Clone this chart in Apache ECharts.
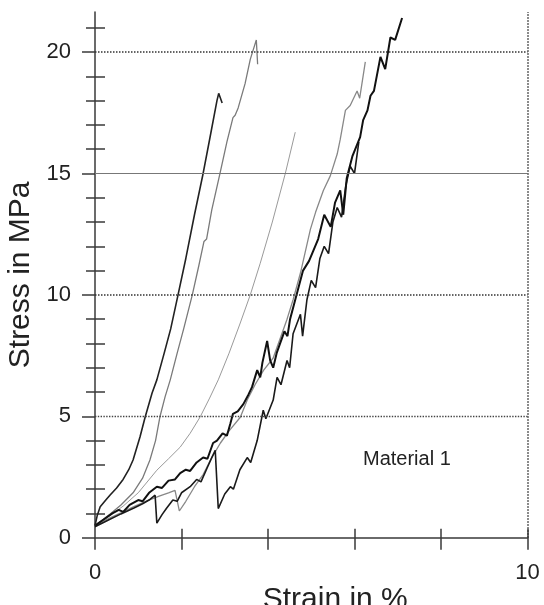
<!DOCTYPE html>
<html>
<head>
<meta charset="utf-8">
<script src="https://cdn.jsdelivr.net/npm/echarts@6/dist/echarts.min.js"></script>
<style>
    html, body { margin: 0; padding: 0; background: #fff; }
    #chart { width: 544px; height: 605px; }
</style>
</head>
<body>
<div id="chart"></div>
<script>
// stress-strain curves, [strain %, stress MPa]
const curveA = [[0,0.5],[0.05,0.9],[0.12,1.27],[0.25,1.55],[0.35,1.76],[0.5,2.05],[0.65,2.4],[0.78,2.8],[0.88,3.2],[1.04,4.15],[1.16,4.97],[1.32,5.96],[1.43,6.5],[1.6,7.6],[1.75,8.6],[1.92,10.0],[2.1,11.5],[2.3,13.3],[2.5,15.0],[2.65,16.4],[2.82,18.0],[2.86,18.3],[2.94,17.9]];
const curveB = [[0,0.5],[0.15,0.7],[0.35,0.98],[0.6,1.35],[0.88,1.85],[1.1,2.45],[1.27,3.2],[1.4,4.0],[1.5,4.97],[1.62,5.8],[1.74,6.5],[1.9,7.6],[2.05,8.6],[2.25,10.0],[2.4,11.2],[2.52,12.2],[2.58,12.3],[2.7,13.5],[2.89,15.0],[3.05,16.3],[3.19,17.3],[3.24,17.4],[3.31,17.7],[3.47,18.7],[3.59,19.7],[3.73,20.5],[3.76,19.5]];
const curveC = [[0,0.5],[0.3,0.85],[0.65,1.3],[1.0,1.85],[1.43,2.78],[1.7,3.25],[1.97,3.73],[2.2,4.3],[2.43,4.97],[2.65,5.75],[2.85,6.5],[3.1,7.6],[3.35,8.8],[3.59,10.0],[3.82,11.3],[4.1,13.0],[4.4,15.0],[4.63,16.7]];
const curveD = [[0,0.5],[0.2,0.75],[0.4,1.0],[0.55,1.15],[0.65,1.06],[0.8,1.35],[1.0,1.55],[1.1,1.5],[1.25,1.85],[1.43,2.1],[1.55,2.05],[1.7,2.35],[1.85,2.4],[1.97,2.66],[2.1,2.8],[2.2,2.75],[2.35,3.1],[2.5,3.3],[2.6,3.25],[2.73,3.9],[2.82,4.0],[2.95,4.3],[3.05,4.2],[3.13,4.7],[3.19,5.1],[3.3,5.2],[3.43,5.5],[3.55,5.9],[3.63,6.2],[3.75,6.9],[3.82,6.6],[3.87,7.2],[3.98,8.1],[4.05,7.3],[4.12,7.0],[4.2,7.6],[4.28,8.0],[4.38,8.5],[4.45,8.3],[4.51,9.0],[4.63,9.8],[4.81,11.0],[4.95,11.4],[5.16,12.3],[5.3,13.3],[5.45,12.8],[5.55,13.8],[5.67,14.3],[5.74,13.3],[5.82,14.8],[5.95,15.7],[6.13,16.5],[6.2,17.2],[6.3,17.6],[6.37,18.2],[6.45,18.4],[6.6,19.8],[6.71,19.3],[6.83,20.6],[6.94,20.5],[7.1,21.4]];
const curveE = [[0,0.5],[0.3,0.78],[0.6,1.02],[0.9,1.28],[1.2,1.52],[1.5,1.72],[1.7,1.85],[1.85,1.95],[1.95,1.1],[2.1,1.5],[2.3,2.1],[2.5,2.6],[2.7,3.3],[2.9,3.9],[3.1,4.4],[3.36,4.96],[3.52,5.67],[3.7,6.3],[3.9,6.9],[4.12,7.4],[4.3,8.3],[4.44,9.0],[4.58,9.8],[4.75,10.9],[4.98,12.7],[5.1,13.4],[5.28,14.3],[5.44,14.9],[5.6,15.8],[5.67,16.4],[5.79,17.6],[5.9,17.8],[6.06,18.4],[6.12,18.1],[6.25,19.6]];
const curveF = [[0,0.45],[0.3,0.72],[0.6,0.98],[0.9,1.22],[1.1,1.4],[1.25,1.55],[1.39,1.75],[1.43,0.6],[1.55,0.95],[1.65,1.2],[1.8,1.55],[1.9,1.5],[2.0,1.85],[2.2,2.1],[2.35,2.4],[2.45,2.3],[2.6,2.9],[2.7,3.3],[2.78,3.6],[2.85,1.2],[3.0,1.8],[3.13,2.1],[3.2,2.0],[3.35,2.8],[3.52,3.3],[3.6,3.1],[3.75,4.0],[3.89,5.25],[3.95,4.9],[4.12,5.67],[4.21,6.6],[4.3,6.3],[4.44,7.3],[4.5,7.0],[4.58,8.4],[4.75,9.2],[4.8,8.3],[4.9,9.8],[5.0,10.6],[5.1,10.3],[5.2,11.5],[5.3,12.0],[5.4,11.7],[5.5,13.0],[5.6,13.6],[5.7,13.2],[5.8,14.5],[5.9,15.3],[6.0,15.0],[6.1,16.3]];

const yMajorValues = [0, 5, 10, 15, 20];
const yMinorValues = [1,2,3,4,6,7,8,9,11,12,13,14,16,17,18,19,21];
const xTickValues = [0, 2, 4, 6, 8, 10];
const xLabelValues = [0, 10];
const gridValues = [5, 10, 15, 20];

const chart = echarts.init(document.getElementById('chart'));

const axisColor = '#3a3a3a';
const fontFamily = 'Liberation Sans, Arial, sans-serif';

function yAxisBase(extra) {
    return Object.assign({
        type: 'value', min: 0, max: 21.65, position: 'left',
        axisLine: { show: false },
        axisLabel: { show: false },
        splitLine: { show: false }
    }, extra);
}

function xAxisBase(extra) {
    return Object.assign({
        type: 'value', min: 0, max: 10, position: 'bottom',
        axisLine: { show: false },
        axisLabel: { show: false },
        splitLine: { show: false }
    }, extra);
}

function curve(data, color, width) {
    return {
        type: 'line', data: data, showSymbol: false, smooth: false,
        lineStyle: { color: color, width: width }, silent: true
    };
}

// horizontal grid lines + dotted right border
const gridLineStyles = {
    5: { type: 'dotted', color: '#444', width: 1.4 },
    10: { type: 'dotted', color: '#333', width: 1.5 },
    15: { type: 'solid', color: '#777', width: 1.2 },
    20: { type: 'dotted', color: '#333', width: 1.5 }
};
const markData = gridValues.map(v => ({ yAxis: v, lineStyle: gridLineStyles[v] }));
markData.push({ xAxis: 10, lineStyle: { type: 'dotted', color: '#333', width: 1.5 } });

const option = {
    animation: false,
    backgroundColor: '#fff',
    grid: { left: 95, right: 16.5, top: 12, bottom: 67.3, outerBoundsMode: 'none', containLabel: false },
    xAxis: [
        xAxisBase({
            axisLine: { show: true, onZero: false, lineStyle: { color: axisColor, width: 1.5 } },
            axisTick: { show: true, customValues: xTickValues, length: 12, lineStyle: { color: axisColor, width: 1.5 } },
            axisLabel: { show: true, customValues: xLabelValues, fontSize: 22, color: '#222', margin: 24, fontFamily: fontFamily },
            name: 'Strain in %', nameLocation: 'middle', nameGap: 47, nameMoveOverlap: false,
            nameTextStyle: { fontSize: 30, color: '#222', fontFamily: fontFamily, padding: [0, 0, 0, 48] }
        }),
        xAxisBase({
            axisTick: { show: true, inside: true, customValues: [2, 4, 6, 8, 10], length: 9, lineStyle: { color: axisColor, width: 1.5 } }
        })
    ],
    yAxis: [
        yAxisBase({
            axisLine: { show: true, onZero: false, lineStyle: { color: axisColor, width: 1.5 } },
            axisTick: { show: true, customValues: yMajorValues, length: 13, lineStyle: { color: axisColor, width: 1.5 } },
            axisLabel: { show: true, customValues: yMajorValues, fontSize: 22, color: '#222', margin: 24, fontFamily: fontFamily },
            name: 'Stress in MPa', nameLocation: 'middle', nameGap: 59, nameRotate: 90,
            nameTextStyle: { fontSize: 30, color: '#222', fontFamily: fontFamily }
        }),
        yAxisBase({
            axisTick: { show: true, customValues: yMinorValues, length: 9, lineStyle: { color: axisColor, width: 1.5 } }
        }),
        yAxisBase({
            axisTick: { show: true, inside: true, customValues: yMinorValues, length: 10, lineStyle: { color: axisColor, width: 1.5 } }
        })
    ],
    graphic: [{
        type: 'text', left: 363, top: 449,
        style: { text: 'Material 1', fontSize: 20, fill: '#222', fontFamily: fontFamily }
    }],
    series: [
        {
            type: 'line', data: [], silent: true,
            markLine: { symbol: 'none', silent: true, label: { show: false }, data: markData }
        },
        curve(curveC, '#9a9a9a', 1),
        curve(curveB, '#7a7a7a', 1.3),
        curve(curveE, '#888', 1.3),
        curve(curveF, '#1a1a1a', 1.6),
        curve(curveD, '#111', 2),
        curve(curveA, '#222', 1.6)
    ]
};

chart.setOption(option);
</script>
</body>
</html>
